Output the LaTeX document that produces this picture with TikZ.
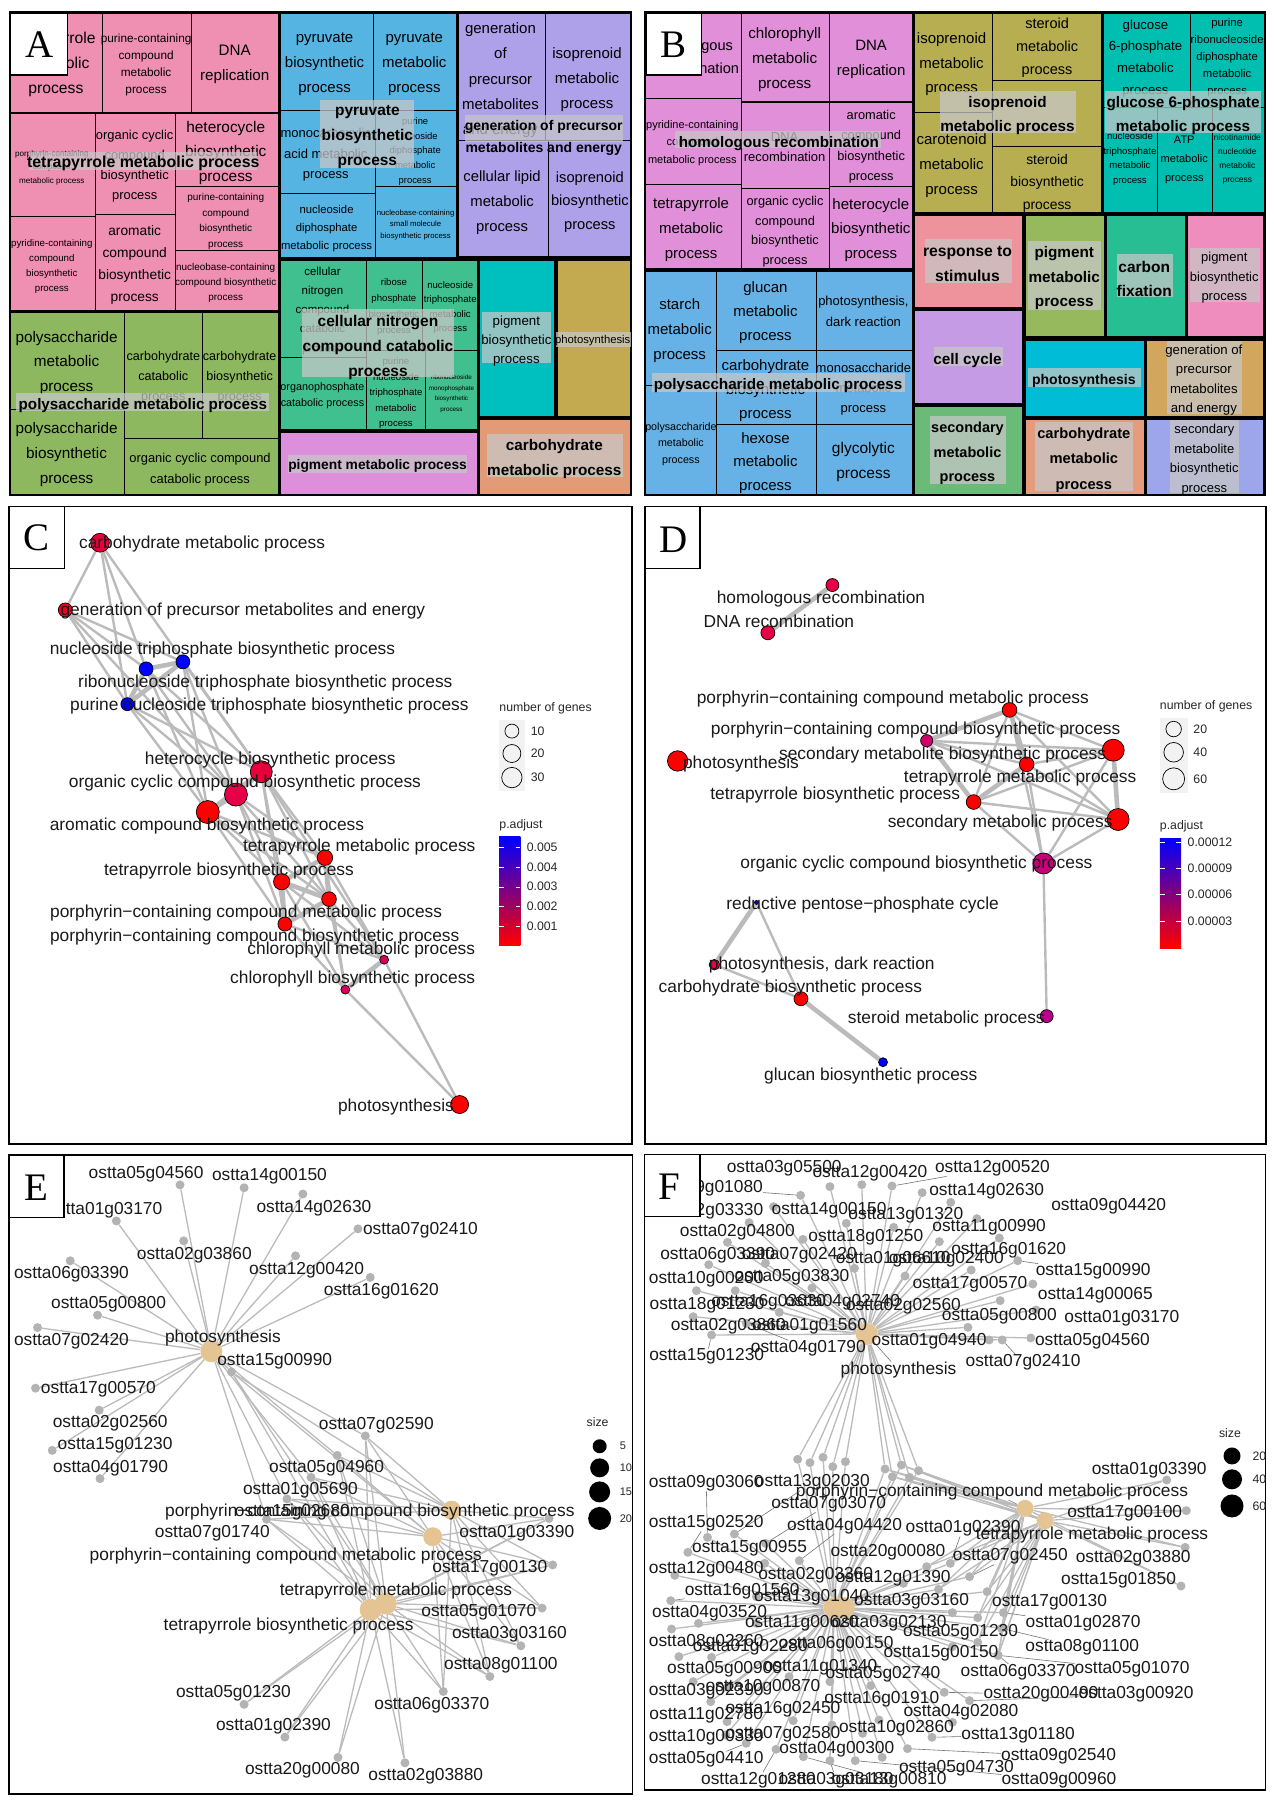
\documentclass[tikz,border=0pt]{standalone}
\usepackage{fontspec}
\setmainfont{Liberation Sans}
\newfontfamily\letterfont{Liberation Serif}
\pgfdeclarelayer{background}
\pgfdeclarelayer{front}
\pgfsetlayers{background,main,front}
\definecolor{tmpinkA}{HTML}{EF8FB2}
\definecolor{tmgreenA}{HTML}{8DB85F}
\definecolor{tmblueA}{HTML}{56B4E2}
\definecolor{tmlilacA}{HTML}{AFA0EA}
\definecolor{tmteal}{HTML}{40C08F}
\definecolor{tmcyan}{HTML}{00BFBF}
\definecolor{tmochre}{HTML}{C3A94F}
\definecolor{tmorchid}{HTML}{DD8FDB}
\definecolor{tmsalmon}{HTML}{E39A76}
\definecolor{tmorchidB}{HTML}{E08FD8}
\definecolor{tmolive}{HTML}{B6AE50}
\definecolor{tmtealB}{HTML}{00BFB0}
\definecolor{tmblueB}{HTML}{66B2E6}
\definecolor{linkgray}{HTML}{BBBBBB}
\definecolor{genegray}{HTML}{B3B3B3}
\definecolor{hubtan}{HTML}{E5C494}
\definecolor{padjA}{HTML}{F0001E}
\definecolor{padjB}{HTML}{E8003A}
\definecolor{padjC}{HTML}{E60048}
\definecolor{padjD}{HTML}{D8005A}
\definecolor{padjE}{HTML}{D0006A}
\definecolor{padjF}{HTML}{C8007A}
\definecolor{padjG}{HTML}{B8008A}
\definecolor{padjmid}{HTML}{B000A0}
\newcounter{tmlab}
\tikzset{
  zoomwide/.style={x=.4082pt,y=-.3333pt},
  zoomtall/.style={x=.4082pt,y=-.4149pt},
  cell/.style={draw=black,line width=.9pt},
  tmlabel/.style={align=center,inner sep=0pt,text=black,yshift=-.8pt},
  hilite/.style={fill=white!78!black,fill opacity=.74},
  panelbox/.style={draw=black,line width=1.3pt,fill=white},
  panelframe/.style={draw=black,line width=1.3pt},
  letter/.style={inner sep=0pt,font=\letterfont\fontsize{39}{39}\selectfont},
  main/.style={circle,draw=black,line width=.7pt,inner sep=0pt},
  link/.style={draw=linkgray,line width=2.4pt},
  linkbold/.style={draw=linkgray,line width=4.6pt},
  thinlink/.style={draw=linkgray,line width=1.3pt},
  leader/.style={draw=black!55,line width=.6pt},
  genedot/.style={circle,fill=genegray,inner sep=0pt,minimum size=9pt},
  hubdot/.style={circle,fill=hubtan,inner sep=0pt},
  netlabel/.style={inner sep=0pt,text=black!90,yshift=-1pt,font=\fontsize{17.35}{17.35}\selectfont},
  legendtext/.style={inner sep=0pt,text=black!85,font=\fontsize{12.3}{12.3}\selectfont},
}
\newcommand{\tmtext}[5]{\stepcounter{tmlab}\node[tmlabel,font=\fontsize{#3}{#4}\selectfont] (tm\thetmlab) at (#1,#2) {#5};}
\newcommand{\tmbold}[5]{\stepcounter{tmlab}\node[tmlabel,font=\bfseries\fontsize{#3}{#4}\selectfont] (tm\thetmlab) at (#1,#2) {#5};}
\newcommand{\term}[8]{\node[main,fill=#5,minimum size=#4pt] (#1) at (#2,#3) {};
  \begin{pgfonlayer}{front}\node[netlabel] (l#1) at (#7,#8) {#6};\end{pgfonlayer}}
\newcommand{\hub}[7]{\node[hubdot,minimum size=#4pt] (#1) at (#2,#3) {};
  \begin{pgfonlayer}{front}\node[netlabel] (l#1) at (#6,#7) {#5};\end{pgfonlayer}}
\newcommand{\gene}[6]{\node[genedot] (#1#2) at (#3,#4) {};
  \begin{pgfonlayer}{front}\node[netlabel] (l#1#2) at (#5,#6) {ostta#2};\end{pgfonlayer}}
\newcommand{\panelmark}[6]{\begin{pgfonlayer}{front}\draw[panelbox] (#1,#2) rectangle (#3,#4);
  \node[letter] (mark#6) at (#5) {#6};\end{pgfonlayer}}
\begin{document}
\begin{tikzpicture}
\useasboundingbox (0pt,0pt) rectangle (1274pt,-1800pt);

%Panel A: treemap
\begin{scope}[zoomwide]
  \fill[black] (22,34) rectangle (1549,1487);
  \foreach \xa/\ya/\xb/\yb in {25/40/252/338,252/40/468/338,468/40/682/338,25/340/234/650,234/340/430/642,430/340/682/558,430/558/682/750,25/650/234/930,234/642/430/930,430/750/682/930}
    \path[cell,fill=tmpinkA] (\xa,\ya) rectangle (\xb,\yb);
  \foreach \xa/\ya/\xb/\yb in {25/936/305/1228,25/1228/305/1482,305/936/496/1316,496/936/682/1316,305/1316/682/1482}
    \path[cell,fill=tmgreenA] (\xa,\ya) rectangle (\xb,\yb);
  \foreach \xa/\ya/\xb/\yb in {686/40/915/330,915/40/1118/330,686/330/920/580,920/330/1118/558,686/580/920/772,920/558/1118/772}
    \path[cell,fill=tmblueA] (\xa,\ya) rectangle (\xb,\yb);
  \foreach \xa/\ya/\xb/\yb in {1124/40/1336/422,1336/40/1545/422,1124/422/1344/770,1344/422/1545/770}
    \path[cell,fill=tmlilacA] (\xa,\ya) rectangle (\xb,\yb);
  \foreach \xa/\ya/\xb/\yb in {686/782/897/1072,897/782/1036/1050,1036/782/1170/1050,686/1072/897/1288,897/1050/1043/1288,1043/1050/1170/1288}
    \path[cell,fill=tmteal] (\xa,\ya) rectangle (\xb,\yb);
  \path[cell,fill=tmcyan] (1175,782) rectangle (1358,1250);
  \path[cell,fill=tmochre] (1365,782) rectangle (1545,1250);
  \path[cell,fill=tmorchid] (686,1298) rectangle (1170,1482);
  \path[cell,fill=tmsalmon] (1175,1258) rectangle (1545,1482);
  %small labels
  \tmtext{137}{191}{15.7}{24.7}{tetrapyrrole\\metabolic\\process}
  \tmtext{358}{192}{11.8}{16.8}{purine-containing\\compound\\metabolic\\process}
  \tmtext{575}{192}{15.2}{25}{DNA\\replication}
  \tmtext{127}{501}{8.1}{13.7}{porphyrin-containing\\compound\\metabolic process}
  \tmtext{330}{496}{12.9}{19.8}{organic cyclic\\compound\\biosynthetic\\process}
  \tmtext{553}{456}{15.4}{24.5}{heterocycle\\biosynthetic\\process}
  \tmtext{553}{662}{10}{15.7}{purine-containing\\compound\\biosynthetic\\process}
  \tmtext{127}{797}{9.7}{15}{pyridine-containing\\compound\\biosynthetic\\process}
  \tmtext{330}{792}{13.75}{22}{aromatic\\compound\\biosynthetic\\process}
  \tmtext{553}{847}{9.9}{15.2}{nucleobase-containing\\compound biosynthetic\\process}
  \tmtext{163}{1086}{15.3}{24.7}{polysaccharide\\metabolic\\process}
  \tmtext{163}{1362}{15.3}{24.8}{polysaccharide\\biosynthetic\\process}
  \tmtext{400}{1130}{12.6}{20}{carbohydrate\\catabolic\\process}
  \tmtext{587}{1130}{12.6}{20}{carbohydrate\\biosynthetic\\process}
  \tmtext{490}{1406}{12.9}{20.7}{organic cyclic compound\\catabolic process}
  \tmtext{795}{190}{15}{25}{pyruvate\\biosynthetic\\process}
  \tmtext{1015}{190}{15}{25}{pyruvate\\metabolic\\process}
  \tmtext{798}{462}{13}{20.8}{monocarboxylic\\acid metabolic\\process}
  \tmtext{1017}{452}{9.4}{14.6}{purine\\nucleoside\\diphosphate\\metabolic\\process}
  \tmtext{800}{683}{11.3}{18}{nucleoside\\diphosphate\\metabolic process}
  \tmtext{1018}{672}{7.75}{11.7}{nucleobase-containing\\small molecule\\biosynthetic process}
  \tmtext{1226}{238}{15}{25.2}{generation\\of\\precursor\\metabolites\\and energy}
  \tmtext{1438}{236}{15}{25.3}{isoprenoid\\metabolic\\process}
  \tmtext{1230}{606}{14.8}{25.3}{cellular lipid\\metabolic\\process}
  \tmtext{1445}{604}{14.7}{23.7}{isoprenoid\\biosynthetic\\process}
  \tmtext{790}{930}{11.5}{19.2}{cellular\\nitrogen\\compound\\catabolic\\process}
  \tmtext{965}{918}{9.6}{16}{ribose\\phosphate\\biosynthetic\\process}
  \tmtext{1103}{920}{9.6}{14.5}{nucleoside\\triphosphate\\metabolic\\process}
  \tmtext{790}{1186}{10.8}{16}{organophosphate\\catabolic process}
  \tmtext{970}{1178}{9.6}{15.5}{purine\\nucleoside\\triphosphate\\metabolic\\process}
  \tmtext{1106}{1179}{6.3}{10.7}{ribonucleoside\\monophosphate\\biosynthetic\\process}
  %group labels
  \fill[hilite] (70,457) rectangle (630,510);
  \tmbold{351}{488}{15.9}{25}{tetrapyrrole metabolic process}
  \fill[hilite] (785,300) rectangle (1013,505);
  \tmbold{900}{410}{15.5}{25}{pyruvate\\biosynthetic\\process}
  \fill[hilite] (1138,345) rectangle (1525,425);
  \tmbold{1332}{411}{14}{22.3}{generation of precursor\\metabolites and energy}
  \fill[hilite] (740,928) rectangle (1112,1132);
  \tmbold{926}{1040}{15.5}{24.7}{cellular nitrogen\\compound catabolic\\process}
  \fill[hilite] (40,1180) rectangle (660,1232);
  \tmbold{350}{1215}{15.2}{25}{polysaccharide metabolic process}
  \fill[hilite] (1180,936) rectangle (1350,1088);
  \tmtext{1265}{1021}{13.3}{18.7}{pigment\\biosynthetic\\process}
  \fill[hilite] (1362,995) rectangle (1545,1040);
  \tmtext{1452}{1018}{11.3}{15}{photosynthesis}
  \fill[hilite] (706,1365) rectangle (1145,1420);
  \tmbold{925}{1395}{13.8}{20}{pigment metabolic process}
  \fill[hilite] (1192,1302) rectangle (1525,1430);
  \tmbold{1358}{1374}{15.3}{25}{carbohydrate\\metabolic process}
  \panelmark{25}{40}{165}{225}{98,135}{A}
\end{scope}

%Panel B: treemap
\begin{scope}[zoomwide,shift={(634pt,0pt)}]
  \fill[black] (24,34) rectangle (1547,1489);
  \foreach \xa/\ya/\xb/\yb in {28/40/264/294,264/40/479/304,479/40/682/304,28/294/264/553,264/306/479/566,479/306/682/558,28/553/264/805,264/566/479/805,479/558/682/805}
    \path[cell,fill=tmorchidB] (\xa,\ya) rectangle (\xb,\yb);
  \foreach \xa/\ya/\xb/\yb in {686/40/878/336,878/40/1145/240,878/240/1145/440,686/336/878/636,878/440/1145/636}
    \path[cell,fill=tmolive] (\xa,\ya) rectangle (\xb,\yb);
  \foreach \xa/\ya/\xb/\yb in {1150/40/1362/322,1362/40/1545/322,1150/322/1283/636,1283/322/1417/636,1417/322/1545/636}
    \path[cell,fill=tmtealB] (\xa,\ya) rectangle (\xb,\yb);
  \foreach \xa/\ya/\xb/\yb in {28/814/202/1155,28/1155/202/1482,202/814/446/1050,446/814/682/1050,202/1050/448/1274,448/1050/682/1272,202/1274/448/1482,448/1272/682/1482}
    \path[cell,fill=tmblueB] (\xa,\ya) rectangle (\xb,\yb);
  \foreach \xa/\ya/\xb/\yb/\col in {686/646/952/922/EE929C,686/932/952/1210/C69BE6,686/1220/952/1482/6ABB78,958/646/1152/1010/97B95D,1158/646/1350/1010/27BE94,1356/646/1542/1010/F08DBF,958/1020/1250/1250/00BCD6,1256/1020/1542/1250/D2A65C,958/1258/1250/1482/E49C7C,1256/1258/1542/1482/9DA6EA}
  {
    \definecolor{cellcol}{HTML}{\col}
    \path[cell,fill=cellcol] (\xa,\ya) rectangle (\xb,\yb);
  }
  %small labels
  \tmtext{145}{168}{14.6}{23.3}{homologous\\recombination}
  \tmtext{369}{176}{15.2}{25.3}{chlorophyll\\metabolic\\process}
  \tmtext{581}{175}{15}{25}{DNA\\replication}
  \tmtext{143}{427}{11}{17.1}{pyridine-containing\\compound\\metabolic process}
  \tmtext{369}{440}{13}{20}{DNA\\recombination}
  \tmtext{581}{437}{12.8}{20.5}{aromatic\\compound\\biosynthetic\\process}
  \tmtext{140}{686}{15}{24.7}{tetrapyrrole\\metabolic\\process}
  \tmtext{370}{693}{12.8}{19.8}{organic cyclic\\compound\\biosynthetic\\process}
  \tmtext{580}{688}{15}{24.2}{heterocycle\\biosynthetic\\process}
  \tmtext{778}{191}{15}{24.5}{isoprenoid\\metabolic\\process}
  \tmtext{1012}{141}{14.5}{22.8}{steroid\\metabolic\\process}
  \tmtext{778}{495}{15}{25}{carotenoid\\metabolic\\process}
  \tmtext{1012}{547}{13.9}{22.3}{steroid\\biosynthetic\\process}
  \tmtext{1253}{173}{13.2}{21.9}{glucose\\6-phosphate\\metabolic\\process}
  \tmtext{1453}{170}{11.3}{17}{purine\\ribonucleoside\\diphosphate\\metabolic\\process}
  \tmtext{1215}{475}{9.6}{14.6}{nucleoside\\triphosphate\\metabolic\\process}
  \tmtext{1348}{477}{11}{18.8}{ATP\\metabolic\\process}
  \tmtext{1478}{476}{8.4}{14.2}{nicotinamide\\nucleotide\\metabolic\\process}
  \tmtext{112}{990}{15}{25.2}{starch\\metabolic\\process}
  \tmtext{115}{1330}{10.7}{16.7}{polysaccharide\\metabolic\\process}
  \tmtext{322}{935}{15}{24.3}{glucan\\metabolic\\process}
  \tmtext{562}{933}{13}{21}{photosynthesis,\\dark reaction}
  \tmtext{322}{1170}{15}{24.3}{carbohydrate\\biosynthetic\\process}
  \tmtext{562}{1165}{13}{19.7}{monosaccharide\\metabolic\\process}
  \tmtext{322}{1387}{15}{23.8}{hexose\\metabolic\\process}
  \tmtext{562}{1385}{15.5}{25}{glycolytic\\process}
  %group labels
  \fill[hilite] (750,272) rectangle (1083,400);
  \tmbold{915}{344}{15.3}{24.7}{isoprenoid\\metabolic process}
  \fill[hilite] (1155,272) rectangle (1535,400);
  \tmbold{1345}{344}{15.3}{24.3}{glucose 6-phosphate\\metabolic process}
  \fill[hilite] (100,393) rectangle (605,443);
  \tmbold{355}{427}{15.2}{25}{homologous recombination}
  \fill[hilite] (43,1120) rectangle (665,1175);
  \tmbold{353}{1155}{15.2}{25}{polysaccharide metabolic process}
  \fill[hilite] (713,717) rectangle (925,850);
  \tmbold{817}{790}{15.7}{25.3}{response to\\stimulus}
  \fill[hilite] (735,1042) rectangle (903,1098);
  \tmbold{817}{1078}{15.3}{25}{cell cycle}
  \fill[hilite] (724,1248) rectangle (912,1452);
  \tmbold{817}{1358}{14.5}{24.5}{secondary\\metabolic\\process}
  \fill[hilite] (965,724) rectangle (1143,930);
  \tmbold{1054}{833}{15.3}{24.5}{pigment\\metabolic\\process}
  \fill[hilite] (1182,762) rectangle (1320,890);
  \tmbold{1250}{834}{15.5}{24}{carbon\\fixation}
  \fill[hilite] (1361,745) rectangle (1533,905);
  \tmtext{1446}{831}{13}{19.5}{pigment\\biosynthetic\\process}
  \fill[hilite] (965,1105) rectangle (1243,1160);
  \tmbold{1102}{1140}{14}{25}{photosynthesis}
  \fill[hilite] (1305,1022) rectangle (1490,1242);
  \tmtext{1396}{1138}{13.2}{19.1}{generation of\\precursor\\metabolites\\and energy}
  \fill[hilite] (982,1267) rectangle (1222,1472);
  \tmbold{1102}{1378}{14.7}{25.2}{carbohydrate\\metabolic\\process}
  \fill[hilite] (1312,1260) rectangle (1482,1480);
  \tmtext{1397}{1376}{13}{19.5}{secondary\\metabolite\\biosynthetic\\process}
  \panelmark{30}{40}{165}{225}{97,135}{B}
\end{scope}

%Panel C: term network
\begin{scope}[zoomtall,shift={(0pt,-500pt)}]
  \draw[panelframe] (22,16) rectangle (1548,1552);
  \term{ccarbo}{245}{103}{18.8}{padjB}{carbohydrate metabolic process}{495}{104}
  \term{cgener}{160}{265}{14}{padjA}{generation of precursor metabolites and energy}{595}{265}
  \term{cntra}{448}{390}{14}{blue}{nucleoside triphosphate biosynthetic process}{545}{360}
  \term{cntrb}{358}{407}{14}{blue}{ribonucleoside triphosphate biosynthetic process}{650}{438}
  \term{cpuri}{312}{492}{13}{blue}{purine nucleoside triphosphate biosynthetic process}{660}{493}
  \term{chetero}{640}{655}{22}{padjB}{heterocycle biosynthetic process}{662}{625}
  \term{corgan}{578}{710}{23}{padjC}{organic cyclic compound biosynthetic process}{600}{680}
  \term{carom}{509}{752}{23}{red}{aromatic compound biosynthetic process}{507}{783}
  \term{ctetm}{796}{862}{15.5}{red}{tetrapyrrole metabolic process}{880}{833}
  \term{ctetb}{690}{920}{16.3}{red}{tetrapyrrole biosynthetic process}{561}{891}
  \term{cporm}{806}{962}{14.7}{red}{porphyrin−containing compound metabolic process}{603}{993}
  \term{cporb}{698}{1022}{14}{red}{porphyrin−containing compound biosynthetic process}{624}{1052}
  \term{cchlm}{941}{1108}{9}{padjD}{chlorophyll metabolic process}{885}{1081}
  \term{cchlb}{846}{1180}{9}{padjD}{chlorophyll biosynthetic process}{864}{1152}
  \term{cphot}{1126}{1457}{18}{red}{photosynthesis}{970}{1460}
  \begin{pgfonlayer}{background}
    \foreach \a/\b in {ccarbo/cgener,ccarbo/cntrb,ccarbo/cpuri,ccarbo/chetero,cgener/cntra,cgener/cntrb,cgener/cpuri,cgener/corgan,cntra/chetero,cntra/corgan,cntra/carom,cntrb/chetero,cntrb/corgan,cntrb/carom,cpuri/chetero,cpuri/corgan,cpuri/carom,chetero/ctetm,chetero/ctetb,chetero/cporm,chetero/cporb,corgan/ctetm,corgan/ctetb,corgan/cporm,corgan/cporb,carom/ctetm,carom/ctetb,carom/cporm,carom/cporb,ctetm/cporb,ctetm/cchlm,ctetm/cchlb,ctetb/cchlm,ctetb/cchlb,cporm/cchlm,cporm/cchlb,cporb/cchlm,cporb/cchlb,chetero/cchlm,cchlm/cphot,cchlb/cphot}
      \path[link] (\a) edge (\b);
    \foreach \a/\b in {cntra/cntrb,cntrb/cpuri,cntra/cpuri,chetero/corgan,corgan/carom,chetero/carom,ctetm/cporm,ctetb/cporm,ctetb/cporb,cporm/cporb,ctetm/ctetb,cchlm/cchlb}
      \path[linkbold] (\a) edge (\b);
  \end{pgfonlayer}
  %legend
  \node[legendtext,anchor=west] (cnum) at (1223,502) {number of genes};
  \fill[black!5] (1223,530) rectangle (1286,702);
  \foreach \yy/\dd/\lab in {557/14/10,611/18/20,669/20.4/30}
  {
    \node[main,fill=black!5,minimum size=\dd pt] (ck\lab) at (1254,\yy) {};
    \node[legendtext,anchor=west] (ct\lab) at (1300,\yy) {\lab};
  }
  \node[legendtext,anchor=west] (cpadj) at (1223,783) {p.adjust};
  \shade[top color=blue,middle color=padjmid,bottom color=red] (1223,812) rectangle (1275,1073);
  \foreach \yy/\lab in {837/0.005,885/0.004,932/0.003,979/0.002,1027/0.001}
  {
    \draw[white,line width=.4pt] (1223,\yy) -- (1235,\yy) (1263,\yy) -- (1275,\yy);
    \node[legendtext,anchor=west] (cb\yy) at (1290,\yy) {\lab};
  }
  \panelmark{22}{16}{158}{165}{90,92}{C}
\end{scope}

%Panel D: term network
\begin{scope}[zoomtall,shift={(634pt,-500pt)}]
  \draw[panelframe] (27,16) rectangle (1548,1552);
  \term{dhomo}{486}{205}{13}{padjC}{homologous recombination}{458}{236}
  \term{ddna}{328}{320}{14}{padjC}{DNA recombination}{355}{290}
  \term{dporm}{920}{506}{14.7}{red}{porphyrin−containing compound metabolic process}{634}{477}
  \term{dporb}{717}{580}{12.2}{padjE}{porphyrin−containing compound biosynthetic process}{690}{553}
  \term{dslite}{1174}{603}{22}{red}{secondary metabolite biosynthetic process}{756}{612}
  \term{dtetm}{962}{637}{14.7}{red}{tetrapyrrole metabolic process}{946}{668}
  \term{dtetb}{832}{728}{14.7}{red}{tetrapyrrole biosynthetic process}{493}{708}
  \term{dsecm}{1186}{770}{22}{red}{secondary metabolic process}{897}{776}
  \term{dphot}{107}{629}{20.4}{red}{photosynthesis}{262}{635}
  \term{dorgan}{1003}{876}{21}{padjF}{organic cyclic compound biosynthetic process}{692}{876}
  \term{dredu}{300}{970}{4}{blue}{reductive pentose−phosphate cycle}{560}{973}
  \term{ddark}{197}{1120}{10.6}{padjC}{photosynthesis, dark reaction}{460}{1119}
  \term{dcarb}{409}{1202}{14}{red}{carbohydrate biosynthetic process}{383}{1174}
  \term{dster}{1011}{1244}{13}{padjG}{steroid metabolic process}{765}{1248}
  \term{dgluc}{610}{1355}{9}{blue}{glucan biosynthetic process}{580}{1386}
  \begin{pgfonlayer}{background}
    \foreach \a/\b in {dporm/dslite,dporm/dtetb,dporm/dsecm,dporm/dorgan,dporb/dslite,dporb/dtetm,dporb/dsecm,dslite/dtetm,dslite/dtetb,dslite/dorgan,dtetm/dsecm,dtetm/dorgan,dtetb/dsecm,dtetb/dorgan,dsecm/dorgan,dorgan/dster,dredu/dcarb,ddark/dcarb}
      \path[link] (\a) edge (\b);
    \foreach \a/\b in {dhomo/ddna,dporm/dporb,dporm/dtetm,dporb/dtetb,dslite/dsecm,dtetm/dtetb,dredu/ddark,dcarb/dgluc}
      \path[linkbold] (\a) edge (\b);
  \end{pgfonlayer}
  %legend
  \node[legendtext,anchor=west] (dnum) at (1288,497) {number of genes};
  \fill[black!5] (1288,525) rectangle (1356,707);
  \foreach \yy/\dd/\lab in {552/15.5/20,608/19.6/40,672/22/60}
  {
    \node[main,fill=black!5,minimum size=\dd pt] (dk\lab) at (1322,\yy) {};
    \node[legendtext,anchor=west] (dt\lab) at (1370,\yy) {\lab};
  }
  \node[legendtext,anchor=west] (dpadj) at (1288,787) {p.adjust};
  \shade[top color=blue,middle color=padjmid,bottom color=red] (1288,815) rectangle (1340,1080);
  \foreach \yy/\lab in {824/0.00012,887/0.00009,951/0.00006,1015/0.00003}
  {
    \draw[white,line width=.4pt] (1288,\yy) -- (1300,\yy) (1328,\yy) -- (1340,\yy);
    \node[legendtext,anchor=west] (db\yy) at (1356,\yy) {\lab};
  }
  \panelmark{27}{16}{162}{165}{97,95}{D}
\end{scope}

%Panel E: gene network
\begin{scope}[zoomtall,shift={(0pt,-1150pt)}]
  \draw[panelframe] (22,12) rectangle (1550,1552);
  \hub{ephot}{518}{485}{22}{photosynthesis}{546}{450}
  \hub{eporb}{1106}{868}{19}{porphyrin−containing compound biosynthetic process}{906}{870}
  \hub{eporm}{1060}{932}{19}{porphyrin−containing compound metabolic process}{700}{975}
  \hub{etetm}{945}{1093}{22}{tetrapyrrole metabolic process}{970}{1060}
  \hub{etetb}{908}{1108}{22}{tetrapyrrole biosynthetic process}{707}{1145}
  \gene{e}{05g04560}{441}{84}{358}{55}
  \gene{e}{14g00150}{598}{91}{660}{62}
  \gene{e}{14g02630}{742}{106}{769}{137}
  \gene{e}{01g03170}{285}{171}{257}{142}
  \gene{e}{02g03860}{450}{219}{476}{250}
  \gene{e}{07g02410}{877}{190}{1030}{190}
  \gene{e}{12g00420}{724}{255}{751}{287}
  \gene{e}{16g01620}{907}{307}{934}{338}
  \gene{e}{06g03390}{172}{267}{175}{297}
  \gene{e}{05g00800}{239}{398}{266}{369}
  \gene{e}{07g02420}{92}{428}{175}{458}
  \gene{e}{15g00990}{567}{535}{673}{506}
  \gene{e}{17g00570}{87}{574}{241}{575}
  \gene{e}{02g02560}{243}{627}{270}{657}
  \gene{e}{15g01230}{128}{724}{282}{710}
  \gene{e}{04g01790}{245}{792}{271}{764}
  \gene{e}{07g02590}{895}{689}{922}{660}
  \gene{e}{05g04960}{826}{736}{800}{765}
  \gene{e}{01g05690}{762}{789}{736}{817}
  \gene{e}{15g02680}{703}{841}{716}{870}
  \gene{e}{07g01740}{653}{890}{520}{921}
  \gene{e}{01g03390}{1345}{888}{1266}{921}
  \gene{e}{17g00130}{1354}{1000}{1200}{1006}
  \gene{e}{05g01070}{1328}{1104}{1173}{1112}
  \gene{e}{03g03160}{1276}{1195}{1248}{1165}
  \gene{e}{08g01100}{1200}{1269}{1227}{1240}
  \gene{e}{06g03370}{1086}{1305}{1058}{1336}
  \gene{e}{05g01230}{598}{1336}{572}{1307}
  \gene{e}{01g02390}{698}{1415}{670}{1386}
  \gene{e}{20g00080}{828}{1464}{741}{1492}
  \gene{e}{02g03880}{992}{1477}{1043}{1508}
  \begin{pgfonlayer}{background}
    \foreach \g in {05g04560,14g00150,14g02630,01g03170,02g03860,07g02410,12g00420,16g01620,06g03390,05g00800,07g02420,15g00990,17g00570,02g02560,15g01230,04g01790,07g02590,05g04960,01g05690,15g02680,07g01740}
      \path[thinlink] (ephot) edge (e\g);
    \foreach \g in {15g00990,07g02590,05g04960,01g05690,15g02680,07g01740,01g03390,17g00130,05g01070,03g03160,08g01100,06g03370}
      \path[thinlink] (eporb) edge (e\g) (eporm) edge (e\g) (etetm) edge (e\g) (etetb) edge (e\g);
    \foreach \g in {05g01230,01g02390,20g00080,02g03880}
      \path[thinlink] (etetm) edge (e\g) (etetb) edge (e\g);
  \end{pgfonlayer}
  %legend
  \node[legendtext] (esize) at (1464,656) {size};
  \foreach \yy/\dd/\lab in {714/14/5,766/19/10,824/21/15,888/23/20}
  {
    \node[circle,fill=black,inner sep=0pt,minimum size=\dd pt] (ek\lab) at (1469,\yy) {};
    \node[legendtext,anchor=west,font=\fontsize{11}{11}\selectfont] (et\lab) at (1518,\yy) {\lab};
  }
  \panelmark{22}{12}{157}{163}{88,92}{E}
\end{scope}

%Panel F: gene network, upper part
\begin{scope}[zoomwide,shift={(634pt,-1150pt)}]
  \draw[panelframe] (25,14) rectangle (1547,1920);
  \hub{fphot}{570}{552}{22}{photosynthesis}{648}{657}
  \gene{f}{03g05500}{480}{110}{368}{52}
  \gene{f}{12g00420}{558}{104}{578}{67}
  \gene{f}{12g00520}{632}{108}{878}{52}
  \gene{f}{09g01080}{408}{136}{175}{112}
  \gene{f}{14g02630}{706}{128}{864}{120}
  \gene{f}{09g04420}{776}{157}{1163}{165}
  \gene{f}{02g03330}{342}{170}{176}{180}
  \gene{f}{14g00150}{520}{220}{478}{178}
  \gene{f}{13g01320}{636}{232}{666}{192}
  \gene{f}{11g00990}{840}{206}{870}{230}
  \gene{f}{02g04800}{282}{218}{253}{245}
  \gene{f}{18g01250}{414}{268}{568}{260}
  \gene{f}{16g01620}{895}{264}{918}{297}
  \gene{f}{07g02420}{322}{340}{405}{312}
  \gene{f}{06g03390}{229}{277}{205}{314}
  \gene{f}{10g02400}{748}{275}{765}{325}
  \gene{f}{01g06610}{664}{378}{635}{325}
  \gene{f}{15g00990}{940}{332}{1125}{362}
  \gene{f}{05g03830}{540}{355}{387}{380}
  \gene{f}{10g00200}{183}{344}{177}{385}
  \gene{f}{17g00570}{826}{360}{823}{400}
  \gene{f}{14g00065}{977}{402}{1130}{432}
  \gene{f}{18g01230}{248}{422}{179}{462}
  \gene{f}{16g03630}{153}{422}{330}{453}
  \gene{f}{04g02740}{436}{414}{511}{453}
  \gene{f}{02g02560}{897}{452}{660}{465}
  \gene{f}{05g00800}{818}{532}{895}{497}
  \gene{f}{01g03170}{985}{480}{1195}{503}
  \gene{f}{05g04560}{972}{564}{1123}{570}
  \gene{f}{07g02410}{902}{570}{953}{635}
  \gene{f}{01g04940}{870}{570}{723}{570}
  \gene{f}{02g03860}{145}{500}{231}{527}
  \gene{f}{01g01560}{356}{487}{430}{527}
  \gene{f}{04g01790}{275}{520}{427}{592}
  \gene{f}{15g01230}{190}{555}{178}{617}
  \node[genedot] (fk1) at (401,928) {};
  \node[genedot] (fk2) at (431,938) {};
  \node[genedot] (fk3) at (463,922) {};
  \node[genedot] (fk4) at (487,950) {};
  \node[genedot] (fk5) at (518,935) {};
  %legend
  \node[legendtext] (fsize) at (1460,848) {size};
  \foreach \yy/\dd/\lab in {918/17/20,988/20/40,1068/23/60}
  {
    \node[circle,fill=black,inner sep=0pt,minimum size=\dd pt] (fl\lab) at (1465,\yy) {};
    \node[legendtext,anchor=west] (ft\lab) at (1515,\yy) {\lab};
  }
  \panelmark{25}{14}{162}{200}{87,110}{F}
\end{scope}

%Panel F: gene network, lower part
\begin{scope}[zoomwide,shift={(634pt,-1460pt)}]
  \hub{fpor}{958}{145}{17}{porphyrin−containing compound metabolic process}{877}{92}
  \hub{ftet}{1007}{182}{17}{tetrapyrrole metabolic process}{1122}{222}
  \node[hubdot,minimum size=21pt] (flow) at (490,443) {};
  \node[hubdot,minimum size=21pt] (flox) at (515,443) {};
  \node[genedot] (fk6) at (615,27) {};
  \node[genedot] (fk7) at (655,15) {};
  \node[genedot] (fk8) at (697,32) {};
  \node[genedot] (fk9) at (633,50) {};
  \node[genedot] (fk10) at (675,52) {};
  \gene{f}{01g03390}{1305}{60}{1262}{27}
  \gene{f}{17g00100}{1353}{152}{1202}{157}
  \gene{f}{02g03880}{1350}{262}{1223}{292}
  \gene{f}{15g01850}{1340}{378}{1187}{357}
  \gene{f}{09g03060}{180}{232}{177}{67}
  \gene{f}{13g02030}{246}{222}{437}{65}
  \gene{f}{07g03070}{322}{250}{477}{130}
  \gene{f}{15g02520}{132}{277}{177}{187}
  \gene{f}{04g04420}{405}{302}{516}{195}
  \gene{f}{01g02390}{775}{310}{806}{202}
  \gene{f}{15g00955}{320}{310}{283}{262}
  \gene{f}{20g00080}{717}{320}{622}{275}
  \gene{f}{07g02450}{822}{350}{922}{287}
  \gene{f}{12g00480}{100}{346}{177}{326}
  \gene{f}{02g03360}{660}{370}{445}{342}
  \gene{f}{12g01390}{746}{388}{635}{353}
  \gene{f}{16g01560}{90}{422}{265}{390}
  \gene{f}{13g01040}{300}{410}{435}{408}
  \gene{f}{03g03160}{865}{395}{680}{420}
  \gene{f}{17g00130}{842}{473}{1018}{423}
  \gene{f}{04g03520}{158}{490}{185}{456}
  \gene{f}{11g00620}{300}{490}{411}{487}
  \gene{f}{03g02130}{780}{458}{625}{487}
  \gene{f}{01g02870}{905}{458}{1100}{488}
  \gene{f}{05g01230}{842}{547}{800}{513}
  \gene{f}{08g02260}{92}{507}{177}{545}
  \gene{f}{01g02280}{110}{590}{285}{560}
  \gene{f}{06g00150}{190}{592}{495}{550}
  \gene{f}{08g01100}{900}{505}{1098}{560}
  \gene{f}{15g00150}{780}{560}{752}{578}
  \gene{f}{05g00900}{145}{665}{222}{625}
  \gene{f}{11g01340}{380}{650}{457}{620}
  \gene{f}{05g02740}{480}{665}{610}{640}
  \gene{f}{06g03370}{892}{586}{941}{633}
  \gene{f}{05g01070}{892}{586}{1220}{626}
  \gene{f}{03g02390}{188}{725}{177}{690}
  \gene{f}{10g00870}{230}{680}{316}{680}
  \gene{f}{20g00490}{760}{697}{997}{700}
  \gene{f}{16g01910}{580}{677}{607}{715}
  \gene{f}{03g00920}{822}{722}{1230}{701}
  \gene{f}{11g02780}{228}{785}{177}{764}
  \gene{f}{16g02450}{390}{782}{365}{745}
  \gene{f}{04g02080}{780}{787}{801}{755}
  \gene{f}{10g02860}{560}{820}{643}{803}
  \gene{f}{07g02580}{485}{795}{365}{820}
  \gene{f}{13g01180}{730}{832}{941}{822}
  \gene{f}{10g00330}{225}{825}{177}{830}
  \gene{f}{05g04410}{275}{850}{177}{895}
  \gene{f}{04g00300}{600}{780}{497}{866}
  \gene{f}{09g02540}{670}{866}{1040}{886}
  \gene{f}{05g04730}{608}{892}{790}{923}
  \gene{f}{09g00960}{542}{902}{1041}{957}
  \gene{f}{12g01280}{348}{868}{305}{957}
  \gene{f}{03g03180}{480}{902}{495}{957}
  \gene{f}{13g00810}{415}{890}{625}{957}
  \begin{pgfonlayer}{background}
    \foreach \g in {03g05500,12g00420,12g00520,09g01080,14g02630,09g04420,02g03330,14g00150,13g01320,11g00990,02g04800,18g01250,16g01620,07g02420,06g03390,10g02400,01g06610,15g00990,05g03830,10g00200,17g00570,14g00065,18g01230,16g03630,04g02740,02g02560,05g00800,01g03170,05g04560,07g02410,01g04940,02g03860,01g01560,04g01790,15g01230}
      \path[thinlink] (fphot) edge (f\g);
    \foreach \g in {k1,k2,k3,k4,k5,k6,k7,k8,k9,k10}
      \path[thinlink] (fphot) edge (f\g) (flow) edge (f\g);
    \foreach \g in {k6,k7,k8,k9,k10,01g02390,20g00080,07g02450,12g01390,03g03160,17g00130,01g02870,05g01230,08g01100,06g03370,05g01070,01g03390,17g00100,02g03880,15g01850}
      \path[thinlink] (fpor) edge (f\g) (ftet) edge (f\g);
    \foreach \g in {09g03060,13g02030,07g03070,15g02520,04g04420,01g02390,15g00955,20g00080,07g02450,12g00480,02g03360,12g01390,16g01560,13g01040,03g03160,17g00130,04g03520,11g00620,03g02130,01g02870,05g01230,08g02260,01g02280,06g00150,08g01100,15g00150,05g00900,11g01340,05g02740,06g03370,03g02390,10g00870,20g00490,16g01910,03g00920,11g02780,16g02450,04g02080,10g02860,07g02580,13g01180,10g00330,05g04410,04g00300,09g02540,05g04730,09g00960,12g01280,03g03180,13g00810}
      \path[thinlink] (flow) edge (f\g);
    %leader lines
    \foreach \g in {09g01080,12g00520,15g00990,07g02410,15g01230,04g01790,09g03060,13g02030,07g03070,15g02520,04g04420,01g02390,07g02450,16g01560,01g02870,08g01100,06g03370,05g01070,20g00490,03g00920,13g01180,09g02540,09g00960,05g04410,12g01280,03g03180,13g00810}
      \draw[leader] (f\g) -- (lf\g);
    \draw[leader] (fphot) -- (lfphot);
    \draw[leader] (fpor) -- (lfpor);
  \end{pgfonlayer}
\end{scope}
\end{tikzpicture}
\end{document}
